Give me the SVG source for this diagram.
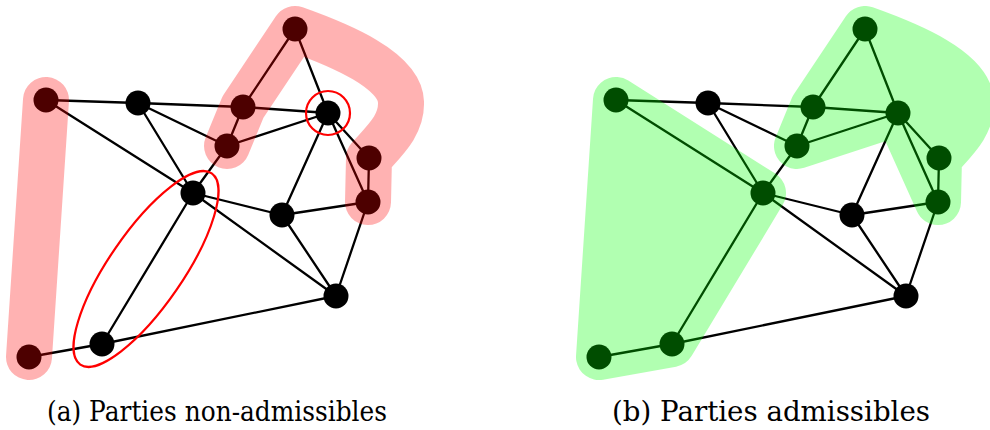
<svg xmlns="http://www.w3.org/2000/svg" width="990" height="430" viewBox="0 0 990 430">
<style>
.e{stroke:#000;stroke-width:2.3;fill:none}
.n{fill:#000}
.hr{fill:none;stroke:#ff0000;stroke-width:46;stroke-linecap:round;stroke-linejoin:round;opacity:0.3}
.hg{fill:#00ff00;stroke:#00ff00;stroke-width:46;stroke-linecap:round;stroke-linejoin:round;opacity:0.3}
.ring{fill:none;stroke:#ff0000;stroke-width:2.2}
.cap{font-family:"DejaVu Serif","Liberation Serif",serif;font-size:27px;fill:#000}
</style>
<defs>
<g id="edges">
<path class="e" d="M46,100L138,103M46,100L193,193M138,103L243,107M138,103L227,146M138,103L193,193M243,107L328,113M243,107L227,146M243,107L295,29M295,29L328,113M227,146L328,113M328,113L282,215M328,113L369,158M328,113L368,202M369,158L368,202M227,146L193,193M193,193L282,215M193,193L336,296M193,193L102,344M282,215L368,202M282,215L336,296M368,202L336,296M336,296L102,344M102,344L29,357"/>
</g>
</defs>
<g id="connectors">
<use href="#edges"/>
<use href="#edges" x="570"/>
</g>
<g id="left-graph">
<g id="a-A"><circle class="n" cx="46" cy="100" r="12.5"/></g>
<g id="a-B"><circle class="n" cx="138" cy="103" r="12.5"/></g>
<g id="a-C"><circle class="n" cx="243" cy="107" r="12.5"/></g>
<g id="a-D"><circle class="n" cx="295" cy="29" r="12.5"/></g>
<g id="a-E"><circle class="n" cx="328" cy="113" r="12.5"/></g>
<g id="a-F"><circle class="n" cx="227" cy="146" r="12.5"/></g>
<g id="a-G"><circle class="n" cx="369" cy="158" r="12.5"/></g>
<g id="a-H"><circle class="n" cx="193" cy="193" r="12.5"/></g>
<g id="a-I"><circle class="n" cx="282" cy="215" r="12.5"/></g>
<g id="a-J"><circle class="n" cx="368" cy="202" r="12.5"/></g>
<g id="a-K"><circle class="n" cx="336" cy="296" r="12.5"/></g>
<g id="a-L"><circle class="n" cx="102" cy="344" r="12.5"/></g>
<g id="a-M"><circle class="n" cx="29" cy="357" r="12.5"/></g>
</g>
<g id="right-graph">
<g id="b-A"><circle class="n" cx="616" cy="100" r="12.5"/></g>
<g id="b-B"><circle class="n" cx="708" cy="103" r="12.5"/></g>
<g id="b-C"><circle class="n" cx="813" cy="107" r="12.5"/></g>
<g id="b-D"><circle class="n" cx="865" cy="29" r="12.5"/></g>
<g id="b-E"><circle class="n" cx="898" cy="113" r="12.5"/></g>
<g id="b-F"><circle class="n" cx="797" cy="146" r="12.5"/></g>
<g id="b-G"><circle class="n" cx="939" cy="158" r="12.5"/></g>
<g id="b-H"><circle class="n" cx="763" cy="193" r="12.5"/></g>
<g id="b-I"><circle class="n" cx="852" cy="215" r="12.5"/></g>
<g id="b-J"><circle class="n" cx="938" cy="202" r="12.5"/></g>
<g id="b-K"><circle class="n" cx="906" cy="296" r="12.5"/></g>
<g id="b-L"><circle class="n" cx="672" cy="344" r="12.5"/></g>
<g id="b-M"><circle class="n" cx="599" cy="357" r="12.5"/></g>
</g>
<g id="highlights">
<path class="hr" d="M46,100L29,357"/>
<path class="hr" d="M227,146L243,107L295,29C340,45 400,70 401,102C402,125 385,140 369,158L368,202"/>
<path class="hg" d="M616,100L763,193L672,344L599,357Z"/>
<path class="hg" d="M797,146L813,107L865,29C910,45 970,70 971,102C972,125 955,140 939,158L938,202L898,113Z"/>
</g>
<g id="marks">
<ellipse class="ring" cx="146" cy="269" rx="116" ry="37" transform="rotate(-55.5 146 269)"/>
<circle class="ring" cx="328" cy="113" r="22"/>
</g>
<g id="captions">
<text class="cap" x="47" y="421" textLength="340" lengthAdjust="spacingAndGlyphs">(a) Parties non-admissibles</text>
<text class="cap" x="612" y="421" textLength="318" lengthAdjust="spacingAndGlyphs">(b) Parties admissibles</text>
</g>
</svg>
